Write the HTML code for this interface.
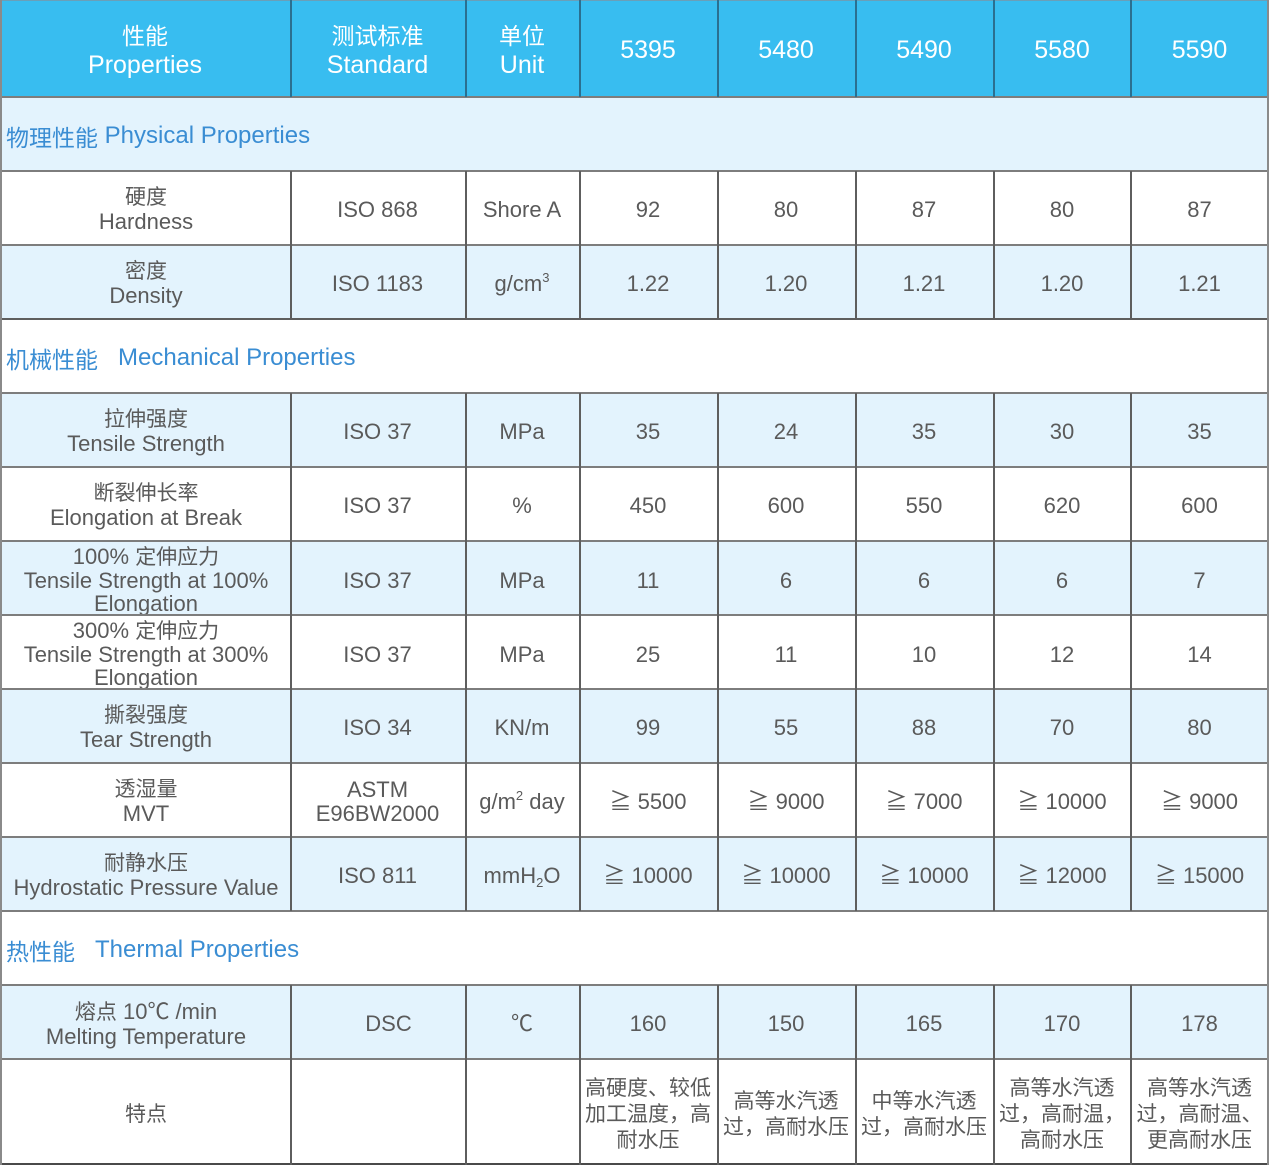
<!DOCTYPE html>
<html>
<head>
<meta charset="utf-8">
<style>
*{margin:0;padding:0;box-sizing:border-box;}
html,body{width:1270px;height:1167px;background:#fff;overflow:hidden;}
body{position:relative;font-family:"Liberation Sans","Noto Sans CJK SC",sans-serif;color:#5a5a5a;}
.row{position:absolute;left:2px;width:1266px;display:flex;}
.c{display:flex;flex-direction:column;align-items:center;justify-content:center;text-align:center;font-size:22px;line-height:24px;padding-top:4px;}
.w0{width:288px}.w1{width:175px}.w2{width:114px}.w3{width:138px}.w4{width:138px}.w5{width:138px}.w6{width:138px}.w7{width:137px}
.hd{background:#38bdf0;color:#fff;}
.hd .c{font-size:25px;line-height:29px;padding-top:4px;}
.hd .cj{font-size:23px;}
.lb{background:#e3f3fd;}
.wh{background:#fff;}
.cj{font-size:21px;}
.sec{align-items:center;padding-left:4px;padding-top:3px;color:#3a8dd3;font-size:24px;}
.sec .cj{font-size:23px;}
.vl{position:absolute;width:2px;background:#5e5e5e;}
.hl{position:absolute;left:0;width:1269px;height:2px;background:#7d7d7d;}
.t3 .c{line-height:23px;}
.ft .c{font-size:21px;line-height:26px;padding-top:6px;}
sup{font-size:13px;vertical-align:9px;line-height:0;}
sub{font-size:13px;vertical-align:-4px;line-height:0;}
</style>
</head>
<body>

<!-- header -->
<div class="row hd" style="top:0;height:97px;left:0;width:1269px;">
  <div class="c w0" style="width:290px"><div class="cj">性能</div><div>Properties</div></div>
  <div class="c w1"><div class="cj">测试标准</div><div>Standard</div></div>
  <div class="c w2"><div class="cj">单位</div><div>Unit</div></div>
  <div class="c w3">5395</div>
  <div class="c w4">5480</div>
  <div class="c w5">5490</div>
  <div class="c w6">5580</div>
  <div class="c w7">5590</div>
</div>

<!-- physical -->
<div class="row lb sec" style="top:97px;height:74px;"><span class="cj">物理性能</span>&nbsp;Physical Properties</div>

<div class="row wh" style="top:171px;height:74px;">
  <div class="c w0"><div class="cj">硬度</div><div>Hardness</div></div>
  <div class="c w1">ISO 868</div>
  <div class="c w2">Shore A</div>
  <div class="c w3">92</div><div class="c w4">80</div><div class="c w5">87</div><div class="c w6">80</div><div class="c w7">87</div>
</div>

<div class="row lb" style="top:245px;height:74px;">
  <div class="c w0"><div class="cj">密度</div><div>Density</div></div>
  <div class="c w1">ISO 1183</div>
  <div class="c w2"><div>g/cm<sup>3</sup></div></div>
  <div class="c w3">1.22</div><div class="c w4">1.20</div><div class="c w5">1.21</div><div class="c w6">1.20</div><div class="c w7">1.21</div>
</div>

<!-- mechanical -->
<div class="row wh sec" style="top:319px;height:74px;"><span class="cj">机械性能</span>&nbsp;&nbsp;&nbsp;Mechanical Properties</div>

<div class="row lb" style="top:393px;height:74px;">
  <div class="c w0"><div class="cj">拉伸强度</div><div>Tensile Strength</div></div>
  <div class="c w1">ISO 37</div>
  <div class="c w2">MPa</div>
  <div class="c w3">35</div><div class="c w4">24</div><div class="c w5">35</div><div class="c w6">30</div><div class="c w7">35</div>
</div>

<div class="row wh" style="top:467px;height:74px;">
  <div class="c w0"><div class="cj">断裂伸长率</div><div>Elongation at Break</div></div>
  <div class="c w1">ISO 37</div>
  <div class="c w2">%</div>
  <div class="c w3">450</div><div class="c w4">600</div><div class="c w5">550</div><div class="c w6">620</div><div class="c w7">600</div>
</div>

<div class="row lb t3" style="top:541px;height:74px;">
  <div class="c w0"><div>100% <span class="cj">定伸应力</span></div><div>Tensile Strength at 100%</div><div>Elongation</div></div>
  <div class="c w1">ISO 37</div>
  <div class="c w2">MPa</div>
  <div class="c w3">11</div><div class="c w4">6</div><div class="c w5">6</div><div class="c w6">6</div><div class="c w7">7</div>
</div>

<div class="row wh t3" style="top:615px;height:74px;">
  <div class="c w0"><div>300% <span class="cj">定伸应力</span></div><div>Tensile Strength at 300%</div><div>Elongation</div></div>
  <div class="c w1">ISO 37</div>
  <div class="c w2">MPa</div>
  <div class="c w3">25</div><div class="c w4">11</div><div class="c w5">10</div><div class="c w6">12</div><div class="c w7">14</div>
</div>

<div class="row lb" style="top:689px;height:74px;">
  <div class="c w0"><div class="cj">撕裂强度</div><div>Tear Strength</div></div>
  <div class="c w1">ISO 34</div>
  <div class="c w2">KN/m</div>
  <div class="c w3">99</div><div class="c w4">55</div><div class="c w5">88</div><div class="c w6">70</div><div class="c w7">80</div>
</div>

<div class="row wh" style="top:763px;height:74px;">
  <div class="c w0"><div class="cj">透湿量</div><div>MVT</div></div>
  <div class="c w1"><div>ASTM</div><div>E96BW2000</div></div>
  <div class="c w2"><div>g/m<sup>2</sup> day</div></div>
  <div class="c w3">≧ 5500</div><div class="c w4">≧ 9000</div><div class="c w5">≧ 7000</div><div class="c w6">≧ 10000</div><div class="c w7">≧ 9000</div>
</div>

<div class="row lb" style="top:837px;height:74px;">
  <div class="c w0"><div class="cj">耐静水压</div><div>Hydrostatic Pressure Value</div></div>
  <div class="c w1">ISO 811</div>
  <div class="c w2"><div>mmH<sub>2</sub>O</div></div>
  <div class="c w3">≧ 10000</div><div class="c w4">≧ 10000</div><div class="c w5">≧ 10000</div><div class="c w6">≧ 12000</div><div class="c w7">≧ 15000</div>
</div>

<!-- thermal -->
<div class="row wh sec" style="top:911px;height:74px;"><span class="cj">热性能</span>&nbsp;&nbsp;&nbsp;Thermal Properties</div>

<div class="row lb" style="top:985px;height:74px;">
  <div class="c w0"><div><span class="cj">熔点</span> 10℃ /min</div><div>Melting Temperature</div></div>
  <div class="c w1" style="padding-left:22px">DSC</div>
  <div class="c w2">℃</div>
  <div class="c w3">160</div><div class="c w4">150</div><div class="c w5">165</div><div class="c w6">170</div><div class="c w7">178</div>
</div>

<div class="row wh ft" style="top:1059px;height:105px;">
  <div class="c w0"><div>特点</div></div>
  <div class="c w1"></div>
  <div class="c w2"></div>
  <div class="c w3"><div>高硬度、较低</div><div>加工温度，高</div><div>耐水压</div></div>
  <div class="c w4"><div>高等水汽透</div><div>过，高耐水压</div></div>
  <div class="c w5"><div>中等水汽透</div><div>过，高耐水压</div></div>
  <div class="c w6"><div>高等水汽透</div><div>过，高耐温，</div><div>高耐水压</div></div>
  <div class="c w7"><div>高等水汽透</div><div>过，高耐温、</div><div>更高耐水压</div></div>
</div>

<!-- horizontal lines -->
<div class="hl" style="top:0;height:1px;background:#6a9fb8;"></div>
<div class="hl" style="top:96px;"></div>
<div class="hl" style="top:170px;"></div>
<div class="hl" style="top:244px;"></div>
<div class="hl" style="top:318px;background:#5e5e5e;"></div>
<div class="hl" style="top:392px;"></div>
<div class="hl" style="top:466px;"></div>
<div class="hl" style="top:540px;"></div>
<div class="hl" style="top:614px;"></div>
<div class="hl" style="top:688px;"></div>
<div class="hl" style="top:762px;"></div>
<div class="hl" style="top:836px;"></div>
<div class="hl" style="top:910px;"></div>
<div class="hl" style="top:984px;"></div>
<div class="hl" style="top:1058px;"></div>
<div class="hl" style="top:1163px;background:#4a4a4a;"></div>

<!-- outer verticals -->
<div class="vl" style="left:0;top:0;height:1165px;background:#8a8a8a;"></div>
<div class="vl" style="left:1267px;top:0;height:1165px;background:#8a8a8a;"></div>

<!-- header verticals -->
<div class="vl" style="left:290px;top:0;height:97px;background:#2b6f90;"></div>
<div class="vl" style="left:465px;top:0;height:97px;background:#2b6f90;"></div>
<div class="vl" style="left:579px;top:0;height:97px;background:#2b6f90;"></div>
<div class="vl" style="left:717px;top:0;height:97px;background:#2b6f90;"></div>
<div class="vl" style="left:855px;top:0;height:97px;background:#2b6f90;"></div>
<div class="vl" style="left:993px;top:0;height:97px;background:#2b6f90;"></div>
<div class="vl" style="left:1130px;top:0;height:97px;background:#2b6f90;"></div>

<!-- body verticals: 171-319 -->
<div class="vl" style="left:290px;top:171px;height:148px;"></div>
<div class="vl" style="left:465px;top:171px;height:148px;"></div>
<div class="vl" style="left:579px;top:171px;height:148px;"></div>
<div class="vl" style="left:717px;top:171px;height:148px;"></div>
<div class="vl" style="left:855px;top:171px;height:148px;"></div>
<div class="vl" style="left:993px;top:171px;height:148px;"></div>
<div class="vl" style="left:1130px;top:171px;height:148px;"></div>

<!-- 393-911 -->
<div class="vl" style="left:290px;top:393px;height:518px;"></div>
<div class="vl" style="left:465px;top:393px;height:518px;"></div>
<div class="vl" style="left:579px;top:393px;height:518px;"></div>
<div class="vl" style="left:717px;top:393px;height:518px;"></div>
<div class="vl" style="left:855px;top:393px;height:518px;"></div>
<div class="vl" style="left:993px;top:393px;height:518px;"></div>
<div class="vl" style="left:1130px;top:393px;height:518px;"></div>

<!-- 985-1165 -->
<div class="vl" style="left:290px;top:985px;height:180px;"></div>
<div class="vl" style="left:465px;top:985px;height:180px;"></div>
<div class="vl" style="left:579px;top:985px;height:180px;"></div>
<div class="vl" style="left:717px;top:985px;height:180px;"></div>
<div class="vl" style="left:855px;top:985px;height:180px;"></div>
<div class="vl" style="left:993px;top:985px;height:180px;"></div>
<div class="vl" style="left:1130px;top:985px;height:180px;"></div>

</body>
</html>
